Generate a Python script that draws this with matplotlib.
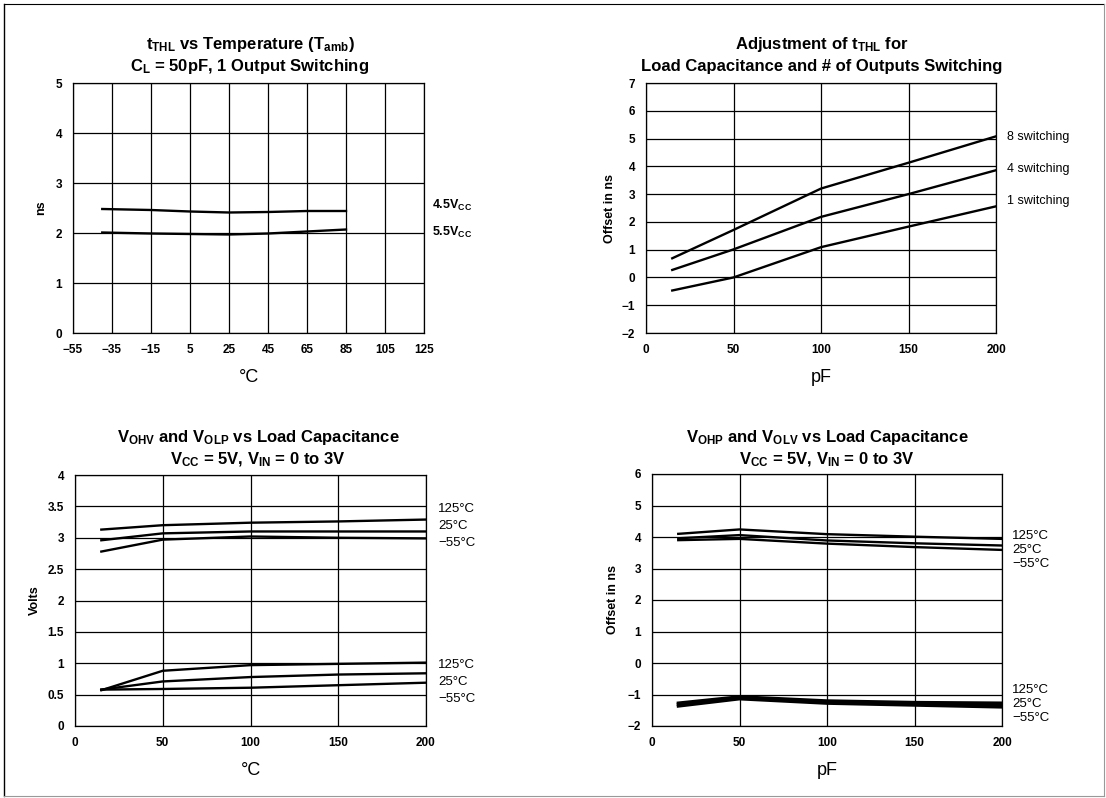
import matplotlib
matplotlib.use("Agg")
import matplotlib.pyplot as plt
from matplotlib.lines import Line2D

plt.rcParams['font.family'] = ['Liberation Sans', 'DejaVu Sans']
plt.rcParams['mathtext.fontset'] = 'custom'
plt.rcParams['mathtext.rm'] = 'Liberation Sans'
plt.rcParams['mathtext.bf'] = 'Liberation Sans:bold'
plt.rcParams['mathtext.it'] = 'Liberation Sans:italic'

# ---------------- data ----------------
# Chart 1: tTHL vs temperature
temp_x = [-40, -15, 5, 25, 45, 65, 85]
t_45v = [2.48, 2.46, 2.43, 2.41, 2.42, 2.44, 2.44]
t_55v = [2.01, 1.99, 1.98, 1.97, 1.99, 2.03, 2.07]
temp_ticks = [-55, -35, -15, 5, 25, 45, 65, 85, 105, 125]

# Chart 2: adjustment of tTHL
cap_x = [15, 50, 100, 150, 200]
sw8 = [0.69, 1.71, 3.20, 4.13, 5.08]
sw4 = [0.27, 1.01, 2.18, 3.00, 3.86]
sw1 = [-0.47, 0.00, 1.09, 1.83, 2.56]

# Chart 3: VOHV and VOLP
vohv_125 = [3.13, 3.20, 3.24, 3.26, 3.29]
vohv_25 = [2.96, 3.07, 3.10, 3.10, 3.10]
vohv_m55 = [2.78, 2.97, 3.02, 3.00, 2.99]
volp_125 = [0.57, 0.88, 0.97, 0.99, 1.01]
volp_25 = [0.58, 0.71, 0.78, 0.82, 0.84]
volp_m55 = [0.58, 0.59, 0.61, 0.65, 0.69]

# Chart 4: VOHP and VOLV
vohp_125 = [4.10, 4.24, 4.09, 4.01, 3.94]
vohp_25 = [3.96, 4.06, 3.89, 3.80, 3.73]
vohp_m55 = [3.90, 3.94, 3.79, 3.68, 3.59]
volv_125 = [-1.27, -1.07, -1.20, -1.25, -1.27]
volv_25 = [-1.31, -1.11, -1.24, -1.29, -1.33]
volv_m55 = [-1.37, -1.14, -1.28, -1.34, -1.40]

cap_ticks = [0, 50, 100, 150, 200]

W, H = 1106, 798
fig = plt.figure(figsize=(W / 100, H / 100), dpi=100)


def px_axes(l, r, t, b):
    return fig.add_axes([l / W, 1 - b / H, (r - l) / W, (b - t) / H])


def fx(x):
    return x / W


def fy(y):
    return 1 - y / H


def style(ax, xlim, ylim, xticks, yticks, ylabels=None):
    ax.set_xlim(*xlim)
    ax.set_ylim(*ylim)
    ax.set_xticks(xticks)
    ax.set_yticks(yticks)
    if ylabels is not None:
        ax.set_yticklabels(ylabels)
    ax.grid(True, color='black', lw=0.9)
    ax.set_axisbelow(True)
    ax.tick_params(length=0, labelsize=8.5, pad=8)
    for lab in ax.get_xticklabels() + ax.get_yticklabels():
        lab.set_fontweight('bold')
    for s in ax.spines.values():
        s.set_color('black')
        s.set_linewidth(0.9)


LW = 1.7
TFS = 12
LFS = 9

# ---------- Chart 1 ----------
ax1 = px_axes(73, 424, 83, 333)
ax1.plot(temp_x, t_45v, color='black', lw=LW)
ax1.plot(temp_x, t_55v, color='black', lw=LW)
style(ax1, (-55, 125), (0, 5), temp_ticks, range(0, 6))
ax1.set_xlabel('°C', fontsize=13, labelpad=9)
ax1.set_ylabel('ns', fontsize=9, fontweight='bold', labelpad=6)
fig.text(fx(250), fy(45), r'$\mathbf{t_{THL}}$ vs Temperature ($\mathbf{T_{amb}}$)',
         ha='center', va='center', fontsize=TFS, fontweight='bold')
fig.text(fx(250), fy(67), r'$\mathbf{C_L}$ = 50pF, 1 Output Switching',
         ha='center', va='center', fontsize=TFS, fontweight='bold')
fig.text(fx(432), fy(205), r'$\mathbf{4.5V_{CC}}$', ha='left', va='center', fontsize=9)
fig.text(fx(432), fy(232), r'$\mathbf{5.5V_{CC}}$', ha='left', va='center', fontsize=9)

# ---------- Chart 2 ----------
ax2 = px_axes(646, 996, 83, 333)
for ys in (sw8, sw4, sw1):
    ax2.plot(cap_x, ys, color='black', lw=LW)
style(ax2, (0, 200), (-2, 7), cap_ticks, range(-2, 8))
ax2.set_xlabel('pF', fontsize=13, labelpad=9)
ax2.set_ylabel('Offset in ns', fontsize=LFS, fontweight='bold', labelpad=4)
fig.text(fx(822), fy(45), r'Adjustment of $\mathbf{t_{THL}}$ for',
         ha='center', va='center', fontsize=TFS, fontweight='bold')
fig.text(fx(822), fy(67), 'Load Capacitance and # of Outputs Switching',
         ha='center', va='center', fontsize=TFS, fontweight='bold')
for lab, y in (('8 switching', 137), ('4 switching', 169), ('1 switching', 201)):
    fig.text(fx(1007), fy(y), lab, ha='left', va='center', fontsize=9)

# ---------- Chart 3 ----------
ax3 = px_axes(75, 426, 475, 726)
for ys in (vohv_125, vohv_25, vohv_m55, volp_125, volp_25, volp_m55):
    ax3.plot(cap_x, ys, color='black', lw=LW)
yt3 = [0, 0.5, 1, 1.5, 2, 2.5, 3, 3.5, 4]
style(ax3, (0, 200), (0, 4), cap_ticks, yt3,
      ['0', '0.5', '1', '1.5', '2', '2.5', '3', '3.5', '4'])
ax3.set_xlabel('°C', fontsize=13, labelpad=9)
ax3.set_ylabel('Volts', fontsize=LFS, fontweight='bold', labelpad=5)
fig.text(fx(258), fy(437), r'$\mathbf{V_{OHV}}$ and $\mathbf{V_{OLP}}$ vs Load Capacitance',
         ha='center', va='center', fontsize=TFS, fontweight='bold')
fig.text(fx(258), fy(460), r'$\mathbf{V_{CC}}$ = 5V, $\mathbf{V_{IN}}$ = 0 to 3V',
         ha='center', va='center', fontsize=TFS, fontweight='bold')
for lab, y in (('125°C', 509), ('25°C', 526), ('−55°C', 543),
               ('125°C', 665), ('25°C', 682), ('−55°C', 699)):
    fig.text(fx(438), fy(y), lab, ha='left', va='center', fontsize=9.5)

# ---------- Chart 4 ----------
ax4 = px_axes(652, 1002, 474, 726)
for ys in (vohp_125, vohp_25, vohp_m55):
    ax4.plot(cap_x, ys, color='black', lw=LW)
for ys in (volv_125, volv_25, volv_m55):
    ax4.plot(cap_x, ys, color='black', lw=2.2)
style(ax4, (0, 200), (-2, 6), cap_ticks, range(-2, 7))
ax4.set_xlabel('pF', fontsize=13, labelpad=9)
ax4.set_ylabel('Offset in ns', fontsize=LFS, fontweight='bold', labelpad=6)
fig.text(fx(827), fy(437), r'$\mathbf{V_{OHP}}$ and $\mathbf{V_{OLV}}$ vs Load Capacitance',
         ha='center', va='center', fontsize=TFS, fontweight='bold')
fig.text(fx(827), fy(460), r'$\mathbf{V_{CC}}$ = 5V, $\mathbf{V_{IN}}$ = 0 to 3V',
         ha='center', va='center', fontsize=TFS, fontweight='bold')
for lab, y in (('125°C', 536), ('25°C', 550), ('−55°C', 564),
               ('125°C', 690), ('25°C', 704), ('−55°C', 718)):
    fig.text(fx(1012), fy(y), lab, ha='left', va='center', fontsize=9.5)

# ---------- outer frame ----------
fig.add_artist(Line2D([fx(4), fx(4)], [fy(4), fy(796)], color='black', lw=1.0))
fig.add_artist(Line2D([fx(4), fx(1104)], [fy(4), fy(4)], color='black', lw=0.8))
fig.add_artist(Line2D([fx(1104), fx(1104)], [fy(4), fy(796)], color='#999999', lw=0.8))
fig.add_artist(Line2D([fx(4), fx(1104)], [fy(796), fy(796)], color='#999999', lw=0.8))

fig.savefig('out.png', dpi=100, facecolor='white')
